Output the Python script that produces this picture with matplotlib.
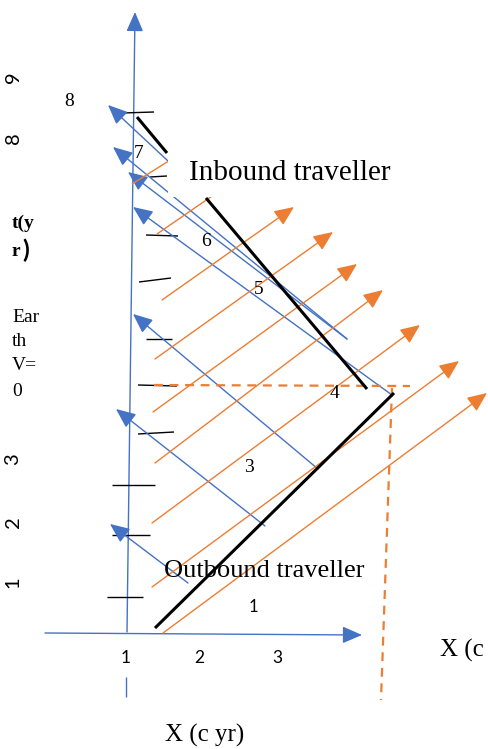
import matplotlib
matplotlib.use("Agg")
from matplotlib import pyplot as plt
from matplotlib.patches import Rectangle

BLUE = "#4472C4"
ORANGE = "#ED7D31"

# everything is in picture pixels (x right, y down)
# main axes
VAxis = [(127, 632), (135, 12)]
HAxis = [(45, 633), (362, 635)]
VStub = [(126, 677), (126, 697)]

# world lines of the travellers
Outbound = [(155, 628), (394, 393)]
Inbound = [(206, 198), (367, 389)]
InboundTop = [(137, 117), (167, 153)]

# earth clock ticks
TickLeft = [(122, 113), (150, 177), (146, 235), (139, 282), (146, 339), (138, 385), (138, 434), (112, 485), (112, 535), (107, 597)]
TickRight = [(154, 112), (167, 176), (178, 236), (171, 278), (172, 339), (177, 386), (174, 432), (155, 485), (150, 535), (143, 597)]

# blue signals (tail -> arrow tip)
BlueTail = [(168, 161), (347, 339), (347, 339), (392, 395), (318, 469), (265, 526), (188, 583)]
BlueTip = [(108, 105), (113, 147), (128, 172), (133, 207), (133, 314), (116, 409), (110, 524)]

# orange signals, plain and with arrows
OrangePlainStart = [(132, 184), (157, 234)]
OrangePlainEnd = [(175, 157), (215, 194)]
OrangeStart = [(162, 300), (155, 359), (153, 412), (155, 463), (152, 523), (152, 587), (163, 633)]
OrangeTip = [(294, 207), (333, 232), (357, 264), (383, 290), (420, 325), (459, 361), (487, 393)]

DashH = [(154, 385), (410, 386)]
DashV = [(392, 388), (381, 700)]

XTicks = ["1", "2", "3"]
XTickPos = [(126, 658), (199, 658), (277, 658)]
YTicks = ["9", "8", "3", "2", "1"]
YTickPos = [(13, 77), (13, 138), (13, 459), (13, 522), (13, 582)]
EventLabels = ["8", "7", "6", "5", "4", "3"]
EventPos = [(69, 102), (139, 154), (206, 242), (259, 290), (335, 394), (249, 467)]
EarthText = ["Ear", "th", "V=", "0"]
EarthPos = [(12, 318), (12, 341), (12, 365), (12, 392)]


def seg(ax, p, color, lw, **kw):
    ax.plot([p[0][0], p[1][0]], [p[0][1], p[1][1]], color=color, lw=lw, solid_capstyle="butt", **kw)


def arrow(ax, tail, tip, color, z=2):
    ax.annotate("", xy=tip, xytext=tail,
                arrowprops=dict(arrowstyle="-|>,head_length=0.6,head_width=0.26", color=color, lw=1,
                                mutation_scale=20, shrinkA=0, shrinkB=0),
                zorder=z)


fig = plt.figure(figsize=(4.88, 7.49), dpi=100)
ax = fig.add_axes([0, 0, 1, 1])
ax.set_xlim(0, 488)
ax.set_ylim(749, 0)
ax.axis("off")

arrow(ax, VAxis[0], VAxis[1], BLUE)
arrow(ax, HAxis[0], HAxis[1], BLUE)
seg(ax, VStub, BLUE, 1)

for i in range(len(TickLeft)):
    seg(ax, [TickLeft[i], TickRight[i]], "black", 1)

for i in range(len(BlueTail)):
    arrow(ax, BlueTail[i], BlueTip[i], BLUE)

for i in range(len(OrangePlainStart)):
    seg(ax, [OrangePlainStart[i], OrangePlainEnd[i]], ORANGE, 1)
for i in range(len(OrangeStart)):
    arrow(ax, OrangeStart[i], OrangeTip[i], ORANGE)

seg(ax, DashH, ORANGE, 1.6, ls=(0, (4, 3)))
seg(ax, DashV, ORANGE, 1.6, ls=(0, (4, 3)))

seg(ax, Outbound, "black", 2.2, zorder=3)
seg(ax, Inbound, "black", 2.2, zorder=3)
seg(ax, InboundTop, "black", 2.2, zorder=3)

serif = "Liberation Serif"
sans = "Lato"

# white text box hiding the lines behind the inbound label
ax.add_patch(Rectangle((168, 155), 232, 42, facecolor="white", edgecolor="none", zorder=4))
ax.text(189, 173, "Inbound traveller", family=serif, fontsize=21, va="center", ha="left", zorder=5)
ax.text(164, 571, "Outbound traveller", family=serif, fontsize=19, va="center", ha="left", zorder=5)
ax.text(253, 607, "1", family=sans, fontsize=12, va="center", ha="center")
ax.text(165, 735, "X (c yr)", family=serif, fontsize=18, va="center", ha="left")
ax.text(440, 650, "X (c", family=serif, fontsize=18, va="center", ha="left")

for i in range(len(XTicks)):
    ax.text(XTickPos[i][0], XTickPos[i][1], XTicks[i], family=sans, fontsize=12.5, ha="center", va="center")
for i in range(len(YTicks)):
    ax.text(YTickPos[i][0], YTickPos[i][1], YTicks[i], family=sans, fontsize=14.5, ha="center", va="center", rotation=90)
for i in range(len(EventLabels)):
    ax.text(EventPos[i][0], EventPos[i][1], EventLabels[i], family=serif, fontsize=14, ha="center", va="center", zorder=6)
for i in range(len(EarthText)):
    ax.text(EarthPos[i][0], EarthPos[i][1], EarthText[i], family=serif, fontsize=14, ha="left", va="center")

ax.text(12, 223, "t(y", family=serif, fontsize=14, weight="bold", ha="left", va="center")
ax.text(12, 252, "r", family=serif, fontsize=14, weight="bold", ha="left", va="center")
ax.text(22, 250, ")", family=sans, fontsize=18, weight="bold", ha="left", va="center")

plt.savefig("out.png", dpi=100)
